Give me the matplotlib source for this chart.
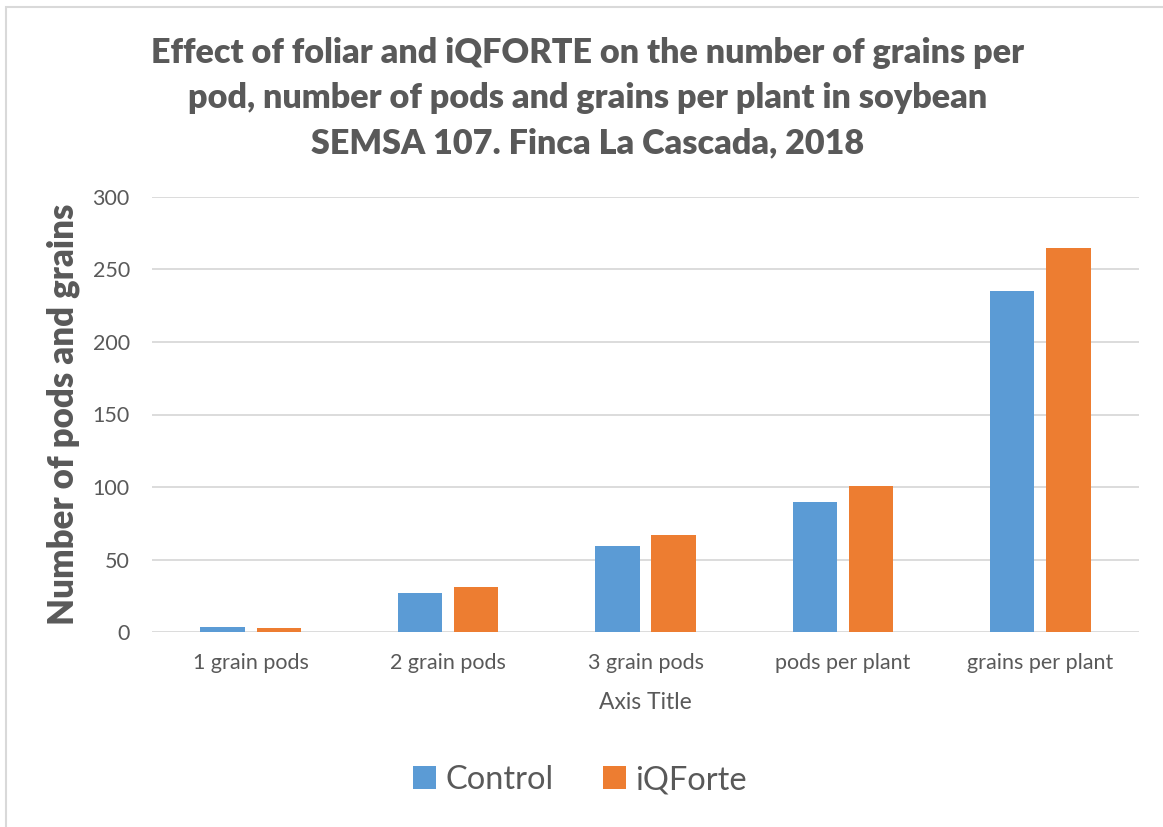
import numpy as np
import matplotlib.pyplot as plt
from matplotlib.patches import Rectangle

# data
categories = ["1 grain pods", "2 grain pods", "3 grain pods", "pods per plant", "grains per plant"]
control = [3.5, 27, 59.5, 90, 235]
iqforte = [3, 31, 67, 101, 265]

blue = "#5b9bd5"
orange = "#ed7d31"
grey = "#595959"

plt.rcParams['font.family'] = ['Lato', 'DejaVu Sans']

fig = plt.figure(figsize=(11.63, 8.27), dpi=100)
W, H = 1163, 827

# chart border (light grey frame like Excel)
fig.patches.append(Rectangle((6 / W, -0.1), 1.2, 1 - 7 / H + 0.1, transform=fig.transFigure,
                             fill=False, edgecolor="#d9d9d9", linewidth=1.5))

ax = fig.add_axes([152 / W, 1 - 632 / H, (1139 - 152) / W, (632 - 197) / H])

x = np.arange(len(categories))
w = 0.225
ax.bar(x - 0.142, control, w, color=blue, label="Control", zorder=3)
ax.bar(x + 0.142, iqforte, w, color=orange, label="iQForte", zorder=3)

ax.set_xlim(-0.5, len(categories) - 0.5)
ax.set_ylim(0, 300)
ax.set_yticks(np.arange(0, 301, 50))
ax.set_xticks(x)
ax.set_xticklabels(categories)
ax.grid(axis="y", color="#d9d9d9", linewidth=1.3, zorder=0)
for s in ax.spines.values():
    s.set_visible(False)
ax.tick_params(axis="both", length=0, labelsize=15.5, colors=grey)
ax.tick_params(axis="y", pad=16)
ax.tick_params(axis="x", pad=15)

ax.set_xlabel("Axis Title", fontsize=16.5, color=grey, labelpad=14)
ax.set_ylabel("Number of pods and grains", fontsize=25, fontweight="heavy", color=grey, labelpad=9)

fig.text(588 / W, 1 - 98 / H,
         "Effect of foliar and iQFORTE on the number of grains per\n"
         "pod, number of pods and grains per plant in soybean\n"
         "SEMSA 107. Finca La Cascada, 2018",
         ha="center", va="center", fontsize=24.6, fontweight="heavy", color=grey, linespacing=1.5)

leg = fig.legend(loc="center", bbox_to_anchor=(580 / W, 1 - 780 / H), ncol=2, frameon=False,
                 fontsize=23.5, handlelength=0.7, handleheight=0.7, handletextpad=0.3, columnspacing=1.5)
for t in leg.get_texts():
    t.set_color(grey)

fig.savefig("out.png", dpi=100)
